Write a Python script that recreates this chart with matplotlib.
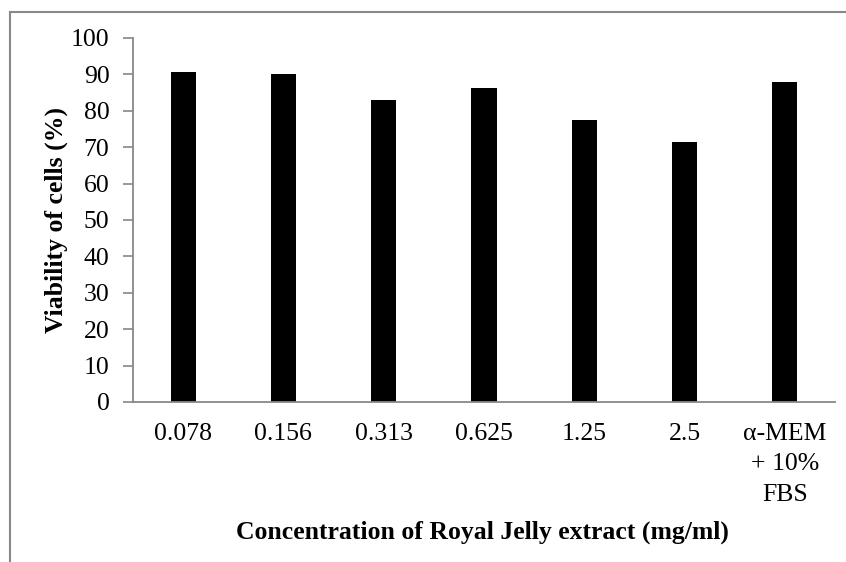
import numpy as np
import matplotlib
matplotlib.use("Agg")
import matplotlib.pyplot as plt
from matplotlib.lines import Line2D

categories = ["0.078", "0.156", "0.313", "0.625", "1.25", "2.5", "\u03b1-MEM\n+ 10%\nFBS"]
viability = [90.7, 90.2, 83.1, 86.4, 77.4, 71.5, 87.8]
yticks = [0, 10, 20, 30, 40, 50, 60, 70, 80, 90, 100]

plt.rcParams['font.family'] = ['Liberation Serif', 'DejaVu Serif']

fig = plt.figure(figsize=(8.46, 5.62), dpi=100)
ax = fig.add_axes([133 / 846, 1 - 402 / 562, (835 - 133) / 846, (402 - 38) / 562])

x = np.arange(len(categories))
ax.bar(x, viability, width=0.25, color='black')

ax.set_xlim(-0.5, len(categories) - 0.5)
ax.set_ylim(0, 100)
ax.set_yticks(yticks)
ax.set_xticks(x)
ax.set_xticklabels(categories, fontsize=18.5, linespacing=1.5, va='top')
ax.tick_params(axis='y', labelsize=18.5, direction='out', length=7, color='#888888', width=1.2, pad=10)
ax.tick_params(axis='x', length=0, pad=15)

for s in ['top', 'right']:
    ax.spines[s].set_visible(False)
for s in ['left', 'bottom']:
    ax.spines[s].set_color('#888888')
    ax.spines[s].set_linewidth(1.3)

ax.set_ylabel('Viability of cells (%)', fontsize=18.5, fontweight='bold', labelpad=2)
fig.text(482 / 846, 1 - 532 / 562, 'Concentration of Royal Jelly extract (mg/ml)',
         fontsize=18.5, fontweight='bold', ha='center', va='center')

# outer frame (only left and top edges visible)
fx = 10 / 846
fy = 1 - 12 / 562
fig.add_artist(Line2D([fx, fx], [0, fy], transform=fig.transFigure, color='#888888', lw=1.5))
fig.add_artist(Line2D([fx, 1], [fy, fy], transform=fig.transFigure, color='#888888', lw=1.5))

fig.savefig('out.png', dpi=100)
